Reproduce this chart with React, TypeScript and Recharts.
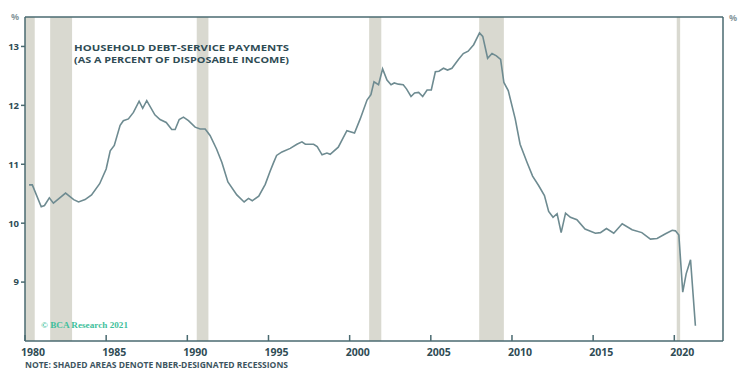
import React from 'react';
import { LineChart, Line, XAxis, YAxis, ReferenceArea, ReferenceLine } from 'recharts';

// household debt-service ratio (decimal year, % of disposable income)
const dates = [
  1980.25, 1980.45, 1981.0, 1981.2, 1981.5, 1981.75, 1982.5, 1983.0, 1983.3, 1983.7,
  1984.1, 1984.6, 1985.0, 1985.25, 1985.5, 1985.86, 1986.06, 1986.37, 1986.68, 1987.03,
  1987.25, 1987.5, 1988.0, 1988.32, 1988.7, 1989.04, 1989.25, 1989.5, 1989.76, 1990.07,
  1990.48, 1990.79, 1991.1, 1991.4, 1991.8, 1992.13, 1992.5, 1993.05, 1993.5, 1993.77,
  1994.0, 1994.4, 1994.8, 1995.1, 1995.3, 1995.5, 1995.83, 1996.34, 1996.75, 1997.06,
  1997.27, 1997.78, 1998.0, 1998.3, 1998.6, 1998.8, 1999.3, 1999.83, 2000.3, 2000.65,
  2001.07, 2001.31, 2001.5, 2001.78, 2002.03, 2002.3, 2002.55, 2002.75, 2003.0, 2003.3,
  2003.5, 2003.78, 2004.0, 2004.25, 2004.5, 2004.77, 2005.03, 2005.28, 2005.5, 2005.78,
  2006.03, 2006.3, 2006.7, 2007.0, 2007.3, 2007.64, 2008.0, 2008.2, 2008.5, 2008.77,
  2009.04, 2009.3, 2009.5, 2009.77, 2010.2, 2010.5, 2010.93, 2011.27, 2011.64, 2012.0,
  2012.26, 2012.53, 2012.78, 2013.03, 2013.3, 2013.6, 2014.0, 2014.5, 2015.14, 2015.45,
  2015.82, 2016.27, 2016.79, 2017.4, 2018.0, 2018.53, 2018.94, 2019.46, 2019.87, 2020.07,
  2020.28, 2020.52, 2020.73, 2021.0, 2021.3,
];
const dsr = [
  10.65, 10.65, 10.28, 10.3, 10.43, 10.34, 10.51, 10.4, 10.36, 10.4,
  10.48, 10.67, 10.92, 11.23, 11.32, 11.66, 11.74, 11.77, 11.88, 12.07,
  11.95, 12.08, 11.84, 11.76, 11.71, 11.59, 11.59, 11.76, 11.8, 11.74,
  11.63, 11.6, 11.6, 11.49, 11.26, 11.03, 10.7, 10.48, 10.36, 10.42,
  10.38, 10.46, 10.66, 10.88, 11.02, 11.15, 11.21, 11.27, 11.34, 11.38,
  11.34, 11.34, 11.3, 11.16, 11.19, 11.17, 11.29, 11.57, 11.53, 11.77,
  12.09, 12.18, 12.4, 12.35, 12.62, 12.43, 12.35, 12.38, 12.36, 12.35,
  12.28, 12.15, 12.21, 12.22, 12.15, 12.26, 12.26, 12.57, 12.58, 12.63,
  12.6, 12.63, 12.78, 12.88, 12.92, 13.03, 13.23, 13.17, 12.8, 12.88,
  12.84, 12.78, 12.39, 12.25, 11.77, 11.34, 11.03, 10.8, 10.64, 10.47,
  10.2, 10.1, 10.16, 9.84, 10.17, 10.1, 10.06, 9.9, 9.83, 9.84,
  9.91, 9.83, 9.99, 9.89, 9.84, 9.73, 9.74, 9.82, 9.88, 9.87,
  9.8, 8.83, 9.14, 9.38, 8.26,
];

const recessionStart = [1980.0, 1981.55, 1990.58, 2001.2, 2007.98, 2020.15];
const recessionEnd = [1980.6, 1982.9, 1991.3, 2001.95, 2009.5, 2020.36];

const xTicks = [1980, 1985, 1990, 1995, 2000, 2005, 2010, 2015, 2020];
const yTicks = [9, 10, 11, 12, 13];

const data = dates.map((t, i) => ({ t, v: dsr[i] }));

const AXIS = '#4a6a70';
const LINE = '#6e8b91';
const BAND = '#d9d9d0';
const TEXT = '#2f4c55';
const FONT = '"Open Sans", sans-serif';

const XTick = (props: any) => {
  const { x, y, payload } = props;
  return (
    <g>
      <line x1={x} x2={x} y1={y} y2={y - 6} stroke={AXIS} strokeWidth={1.5} />
      <text x={x + 8} y={y + 15} textAnchor="middle" fill={TEXT} fontSize={10.5} fontWeight={700} fontFamily={FONT}>
        {payload.value}
      </text>
    </g>
  );
};

const LeftTick = (props: any) => {
  const { x, y, payload } = props;
  return (
    <g>
      <line x1={x - 4} x2={x} y1={y} y2={y} stroke={AXIS} strokeWidth={1.5} />
      <text x={x - 6} y={y} dy="0.35em" textAnchor="end" fill={TEXT} fontSize={9.5} fontWeight={700} fontFamily={FONT}>
        {payload.value}
      </text>
    </g>
  );
};

const RightTick = (props: any) => {
  const { x, y, payload } = props;
  return (
    <g>
      <line x1={x - 5} x2={x} y1={y} y2={y} stroke={AXIS} strokeWidth={1.5} />
      <text x={x + 5} y={y} dy="0.35em" textAnchor="start" fill={TEXT} fontSize={9.5} fontWeight={700} fontFamily={FONT}>
        {payload.value}
      </text>
    </g>
  );
};

export default function App() {
  return (
    <div style={{ position: 'relative', width: 751, height: 374, background: '#fff' }}>
      <style>{'body{margin:0}'}</style>
      <LineChart width={751} height={374} data={data} margin={{ top: 17, right: 0, bottom: 0, left: 0 }}>
        <XAxis
          dataKey="t"
          type="number"
          domain={[1980, 2023]}
          ticks={xTicks}
          interval={0}
          height={33}
          tickSize={0}
          tickMargin={0}
          tickLine={false}
          axisLine={{ stroke: AXIS, strokeWidth: 1.5 }}
          tick={<XTick />}
        />
        <YAxis
          yAxisId="l"
          domain={[8, 13.5]}
          ticks={yTicks}
          interval={0}
          width={25}
          tickSize={0}
          tickMargin={0}
          tickLine={false}
          axisLine={{ stroke: AXIS, strokeWidth: 1.5 }}
          tick={<LeftTick />}
        />
        <YAxis
          yAxisId="r"
          orientation="right"
          domain={[8, 13.5]}
          ticks={yTicks}
          interval={0}
          width={28}
          tickSize={0}
          tickMargin={0}
          tickLine={false}
          axisLine={{ stroke: AXIS, strokeWidth: 1.5 }}
          tick={<RightTick />}
        />
        {recessionStart.map((s, i) => (
          <ReferenceArea key={i} yAxisId="l" x1={s} x2={recessionEnd[i]} fill={BAND} fillOpacity={1} stroke="none" />
        ))}
        <ReferenceLine yAxisId="l" y={13.5} stroke={AXIS} strokeWidth={1.5} />
        <Line
          yAxisId="l"
          type="linear"
          dataKey="v"
          stroke={LINE}
          strokeWidth={1.6}
          dot={false}
          isAnimationActive={false}
        />
      </LineChart>
      <svg width={751} height={374} style={{ position: 'absolute', left: 0, top: 0, pointerEvents: 'none' }}>
        <text x={11} y={20} fill="#8a9a9e" fontSize={9} fontWeight={700} fontFamily={FONT}>%</text>
        <text x={729} y={21} fill="#8a9a9e" fontSize={9} fontWeight={700} fontFamily={FONT}>%</text>
        <text x={74} y={51} fill={TEXT} fontSize={9} fontWeight={700} fontFamily={FONT} textLength={215} lengthAdjust="spacingAndGlyphs">
          HOUSEHOLD DEBT-SERVICE PAYMENTS
        </text>
        <text x={74} y={62.5} fill={TEXT} fontSize={9} fontWeight={700} fontFamily={FONT} textLength={215} lengthAdjust="spacingAndGlyphs">
          (AS A PERCENT OF DISPOSABLE INCOME)
        </text>
        <text x={41} y={328} fill="#3fbf9c" fontSize={9} fontWeight={700} fontFamily='"Liberation Serif", serif' textLength={87} lengthAdjust="spacingAndGlyphs">
          © BCA Research 2021
        </text>
        <text x={25} y={368} fill="#3d5560" fontSize={8} fontWeight={700} fontFamily={FONT} textLength={263} lengthAdjust="spacingAndGlyphs">
          NOTE: SHADED AREAS DENOTE NBER-DESIGNATED RECESSIONS
        </text>
      </svg>
    </div>
  );
}
